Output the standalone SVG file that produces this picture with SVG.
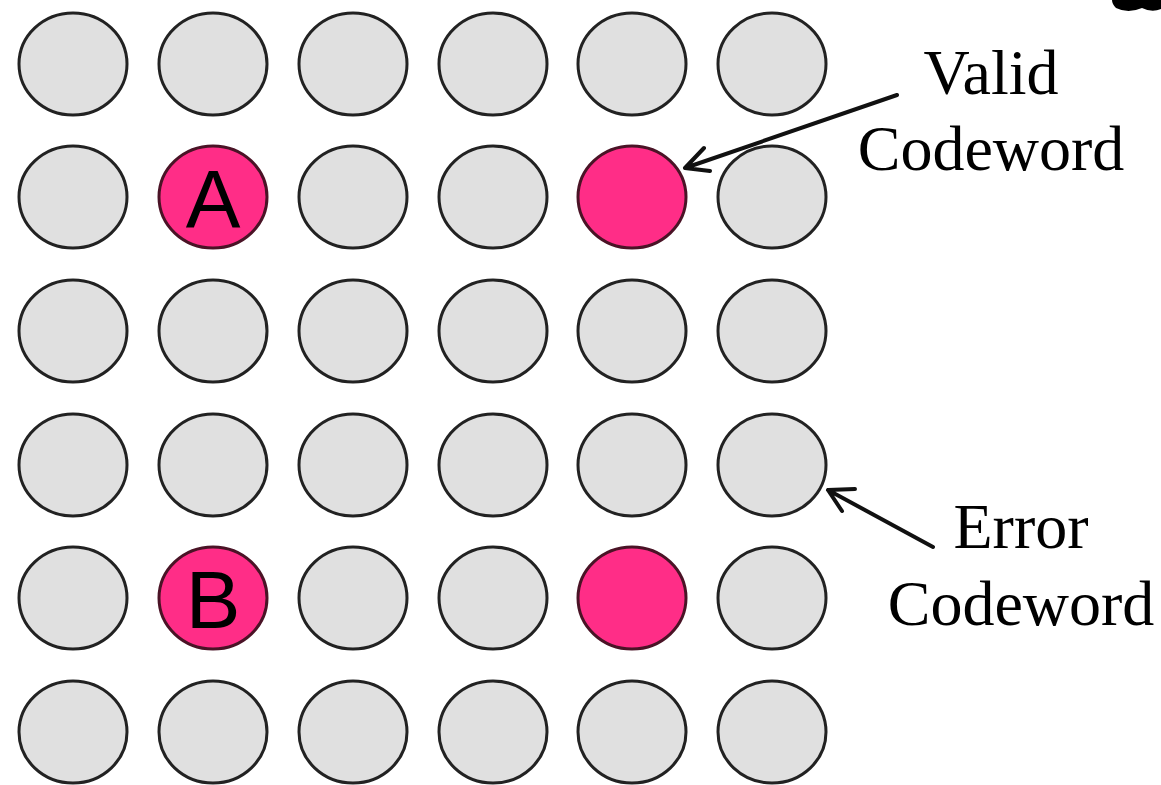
<svg xmlns="http://www.w3.org/2000/svg" width="1161" height="785" viewBox="0 0 1161 785">
<style>
.c{fill:#e0e0e0;stroke:#222;stroke-width:3}
.p{fill:#ff2d87;stroke:#4a1326;stroke-width:3}
.lt{font-family:"Liberation Sans",Arial,sans-serif;font-size:82px;fill:#000;text-anchor:middle}
.lb{font-family:"Liberation Serif","Times New Roman",serif;font-size:64px;fill:#000;text-anchor:middle}
.a{stroke:#111;stroke-width:4;fill:none;stroke-linecap:round;stroke-linejoin:round}
</style>
<rect width="1161" height="785" fill="#fff"/>
<g id="grid">
<g id="r1"><ellipse class="c" cx="73" cy="64" rx="54" ry="51"/><ellipse class="c" cx="213" cy="64" rx="54" ry="51"/><ellipse class="c" cx="353" cy="64" rx="54" ry="51"/><ellipse class="c" cx="493" cy="64" rx="54" ry="51"/><ellipse class="c" cx="632" cy="64" rx="54" ry="51"/><ellipse class="c" cx="772" cy="64" rx="54" ry="51"/></g>
<g id="r2"><ellipse class="c" cx="73" cy="197" rx="54" ry="51"/><ellipse class="c" cx="353" cy="197" rx="54" ry="51"/><ellipse class="c" cx="493" cy="197" rx="54" ry="51"/><ellipse class="c" cx="772" cy="197" rx="54" ry="51"/></g>
<g id="r3"><ellipse class="c" cx="73" cy="331" rx="54" ry="51"/><ellipse class="c" cx="213" cy="331" rx="54" ry="51"/><ellipse class="c" cx="353" cy="331" rx="54" ry="51"/><ellipse class="c" cx="493" cy="331" rx="54" ry="51"/><ellipse class="c" cx="632" cy="331" rx="54" ry="51"/><ellipse class="c" cx="772" cy="331" rx="54" ry="51"/></g>
<g id="r4"><ellipse class="c" cx="73" cy="465" rx="54" ry="51"/><ellipse class="c" cx="213" cy="465" rx="54" ry="51"/><ellipse class="c" cx="353" cy="465" rx="54" ry="51"/><ellipse class="c" cx="493" cy="465" rx="54" ry="51"/><ellipse class="c" cx="632" cy="465" rx="54" ry="51"/><ellipse id="error" class="c" cx="772" cy="465" rx="54" ry="51"/></g>
<g id="r5"><ellipse class="c" cx="73" cy="598" rx="54" ry="51"/><ellipse class="c" cx="353" cy="598" rx="54" ry="51"/><ellipse class="c" cx="493" cy="598" rx="54" ry="51"/><ellipse class="c" cx="772" cy="598" rx="54" ry="51"/></g>
<g id="r6"><ellipse class="c" cx="73" cy="732" rx="54" ry="51"/><ellipse class="c" cx="213" cy="732" rx="54" ry="51"/><ellipse class="c" cx="353" cy="732" rx="54" ry="51"/><ellipse class="c" cx="493" cy="732" rx="54" ry="51"/><ellipse class="c" cx="632" cy="732" rx="54" ry="51"/><ellipse class="c" cx="772" cy="732" rx="54" ry="51"/></g>
</g>
<g id="nodeA"><ellipse class="p" cx="213" cy="197" rx="54" ry="51"/><text class="lt" x="213" y="227">A</text></g>
<g id="nodeB"><ellipse class="p" cx="213" cy="598" rx="54" ry="51"/><text class="lt" x="213" y="628">B</text></g>
<g id="valid1"><ellipse class="p" cx="632" cy="197" rx="54" ry="51"/></g>
<g id="valid2"><ellipse class="p" cx="632" cy="598" rx="54" ry="51"/></g>
<g id="labelValid"><text class="lb" x="991" y="94">Valid</text><text class="lb" x="991" y="170">Codeword</text></g>
<g id="labelError"><text class="lb" x="1021" y="548">Error</text><text class="lb" x="1021" y="625">Codeword</text></g>
<g id="connectors">
<path class="a" d="M897 95 L685 168 M704 148 L685 168 L710 171"/>
<path class="a" d="M933 547 L828 490 M855 489 L828 490 L842 511"/>
</g>
<path d="M1112 0 L1161 0 L1161 9 Q1152 13 1142 8 Q1128 14 1116 8 Q1112 4 1112 0 Z" fill="#000"/>
</svg>
